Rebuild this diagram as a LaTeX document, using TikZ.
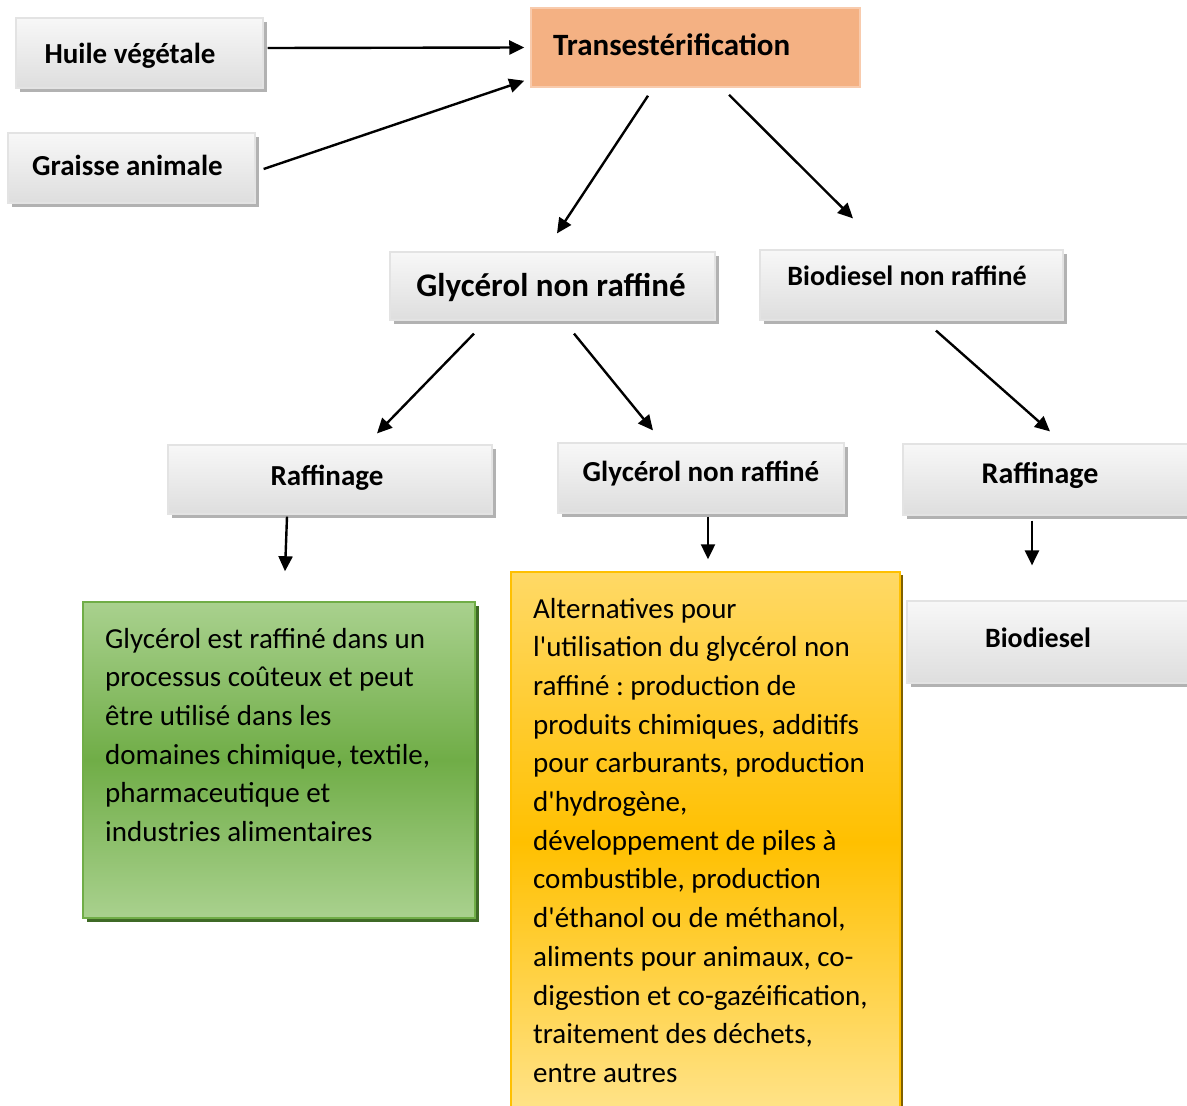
\documentclass[tikz,border=0pt]{standalone}
\usepackage{fontspec}
\setmainfont{Carlito}
\usetikzlibrary{shadows,calc,arrows.meta}
\definecolor{transfill}{HTML}{F4B183}
\definecolor{transline}{HTML}{F8CBAD}
\definecolor{greenlight}{HTML}{A9D18E}
\definecolor{greenmid}{HTML}{70AD47}
\definecolor{greenshadow}{HTML}{3F6A26}
\definecolor{yellowtop}{HTML}{FFD966}
\definecolor{yellowmid}{HTML}{FFC000}
\definecolor{yellowbot}{HTML}{FFE38A}
\definecolor{yellowshadow}{HTML}{7F6000}
\frenchspacing
\begin{document}
\begin{tikzpicture}[x=1pt,y=-1pt,
  gbox/.style={rectangle, inner sep=0pt, draw=gray!22, line width=1.2pt,
    top color=gray!6, bottom color=gray!26,
    drop shadow={shadow xshift=4pt, shadow yshift=-4pt, fill=gray!60, opacity=1}},
  htext/.style={anchor=base, inner sep=0pt, font=\bfseries},
  arr/.style={-{Triangle[length=15pt,width=14pt]}, line width=2.4pt},
  bodytext/.style={anchor=base west, inner sep=0pt, font=\fontsize{29}{38.7}\selectfont}
]
\useasboundingbox (0,0) rectangle (1187,1106);
\fill[white] (0,0) rectangle (1187,1106);

% gray boxes
\node[gbox, minimum width=247pt, minimum height=70pt] (huile) at (139.5,53) {};
\node[htext, font=\bfseries\fontsize{29}{34}\selectfont] (thuile) at (130,63) {Huile végétale};

\node[gbox, minimum width=247pt, minimum height=70pt] (graisse) at (131.5,168) {};
\node[htext, font=\bfseries\fontsize{29}{34}\selectfont] (tgraisse) at (127.5,175) {Graisse animale};

\node[rectangle, inner sep=0pt, draw=transline, line width=1.5pt, fill=transfill,
  minimum width=329pt, minimum height=79pt] (trans) at (695.5,47.5) {};
\node[anchor=base west, inner sep=0pt, font=\bfseries\fontsize{31}{36}\selectfont] (ttrans) at (553,55) {Transestérification};

\node[gbox, minimum width=325pt, minimum height=68pt] (gly1) at (552.5,286) {};
\node[htext, font=\bfseries\fontsize{33}{38}\selectfont] (tgly1) at (551,296) {Glycérol non raffiné};

\node[gbox, minimum width=303pt, minimum height=70pt] (bio1) at (911.5,285) {};
\node[htext, font=\bfseries\fontsize{28}{33}\selectfont] (tbio1) at (907,285) {Biodiesel non raffiné};

\node[gbox, minimum width=324pt, minimum height=69pt] (raff1) at (330,479.5) {};
\node[htext, font=\bfseries\fontsize{29}{34}\selectfont] (traff1) at (327,485) {Raffinage};

\node[gbox, minimum width=286pt, minimum height=70pt] (gly2) at (701,478) {};
\node[htext, font=\bfseries\fontsize{29}{34}\selectfont] (tgly2) at (701,481) {Glycérol non raffiné};

\node[gbox, minimum width=287pt, minimum height=71pt] (raff2) at (1046.5,479.5) {};
\node[htext, font=\bfseries\fontsize{30}{35}\selectfont] (traff2) at (1040,483) {Raffinage};

\node[gbox, minimum width=283pt, minimum height=82pt] (biod) at (1048.5,642) {};
\node[htext, font=\bfseries\fontsize{28}{33}\selectfont] (tbiod) at (1038,647) {Biodiesel};

% green box
\node[rectangle, inner sep=0pt, draw=greenmid, line width=1.5pt,
  top color=greenlight, bottom color=greenlight, middle color=greenmid,
  drop shadow={shadow xshift=4pt, shadow yshift=-4pt, fill=greenshadow, opacity=1},
  minimum width=392pt, minimum height=316pt] (green) at (279,760) {};
\node[bodytext] (tgreen) at (105,648) {\begin{tabular}[t]{@{}l@{}}
Glycérol est raffiné dans un\\
processus coûteux et peut\\
être utilisé dans les\\
domaines chimique, textile,\\
pharmaceutique et\\
industries alimentaires
\end{tabular}};

% yellow box
\node[rectangle, inner sep=0pt, draw=yellowmid, line width=1.5pt,
  top color=yellowtop, bottom color=yellowbot, middle color=yellowmid,
  drop shadow={shadow xshift=3pt, shadow yshift=-3pt, fill=yellowshadow, opacity=1},
  minimum width=389pt, minimum height=540pt] (yellow) at (705.5,842) {};
\node[bodytext] (tyellow) at (533,618) {\begin{tabular}[t]{@{}l@{}}
Alternatives pour\\
l\textquotesingle utilisation du glycérol non\\
raffiné : production de\\
produits chimiques, additifs\\
pour carburants, production\\
d\textquotesingle hydrogène,\\
développement de piles à\\
combustible, production\\
d\textquotesingle éthanol ou de méthanol,\\
aliments pour animaux, co-\\
digestion et co-gazéification,\\
traitement des déchets,\\
entre autres
\end{tabular}};

% arrows
\draw[arr] ($(huile.east)+(4,-5)$) -- ($(trans.west)+(-6,0)$);
\draw[arr] ($(graisse.east)+(8,1)$) -- ($(trans.south west)+(-6,-7)$);
\draw[arr] ($(trans.south)+(-47.5,8)$) -- ($(gly1.north)+(4.5,-18)$);
\draw[arr] ($(trans.south)+(33.5,7)$) -- ($(bio1.north)+(-58.5,-31)$);
\draw[arr] ($(gly1.south)+(-78.5,13)$) -- ($(raff1.north)+(47,-11)$);
\draw[arr] ($(gly1.south)+(21.5,13)$) -- ($(gly2.north)+(-48,-12)$);
\draw[arr] ($(bio1.south)+(24.5,10)$) -- ($(raff2.north)+(3.5,-12)$);
\draw[arr] ($(raff1.south)+(-43,2)$) -- ($(green.north)+(6,-30)$);
\draw[arr] ($(gly2.south)+(7,3)$) -- ($(yellow.north)+(2.5,-12)$);
\draw[arr] ($(raff2.south)+(-14.5,5)$) -- ($(biod.north)+(-16.5,-35)$);
\end{tikzpicture}
\end{document}
